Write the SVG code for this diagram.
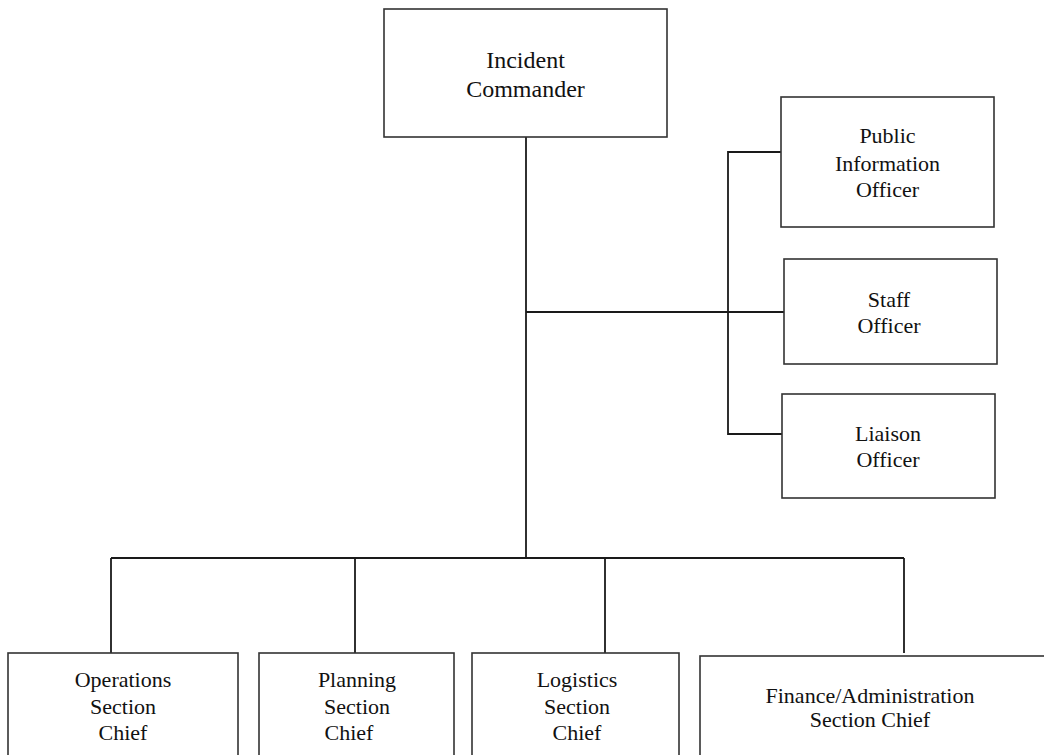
<svg xmlns="http://www.w3.org/2000/svg" width="1044" height="755" viewBox="0 0 1044 755">
  <style>
    .box { fill: #ffffff; stroke: #333333; stroke-width: 1.6; }
    .link { fill: none; stroke: #1a1a1a; stroke-width: 1.8; }
    text { font-family: "Liberation Serif", "Times New Roman", serif; font-size: 22px; fill: #111111; text-anchor: middle; }
    .big { font-size: 24px; }
  </style>
  <rect width="1044" height="755" fill="#ffffff"/>

  <g id="connectors">
    <!-- trunk from the commander down to the section bus -->
    <line class="link" x1="526" y1="137" x2="526" y2="558"/>
    <!-- command staff spine -->
    <path class="link" d="M781,152 H728 V434 H782"/>
    <line class="link" x1="526" y1="312" x2="786" y2="312"/>
    <!-- section bus and drops -->
    <line class="link" x1="111" y1="558" x2="904" y2="558"/>
    <line class="link" x1="111" y1="558" x2="111" y2="653"/>
    <line class="link" x1="355" y1="558" x2="355" y2="653"/>
    <line class="link" x1="605" y1="558" x2="605" y2="653"/>
    <line class="link" x1="904" y1="558" x2="904" y2="653"/>
  </g>

  <g id="incident-commander">
    <rect class="box" x="384" y="9" width="283" height="128"/>
    <text class="big" x="525.5" y="68">Incident</text>
    <text class="big" x="525.5" y="97">Commander</text>
  </g>

  <g id="public-information-officer">
    <rect class="box" x="781" y="97" width="213" height="130"/>
    <text x="887.5" y="143">Public</text>
    <text x="887.5" y="171">Information</text>
    <text x="887.5" y="197">Officer</text>
  </g>

  <g id="staff-officer">
    <rect class="box" x="784" y="259" width="213" height="105"/>
    <text x="889" y="307">Staff</text>
    <text x="889" y="333">Officer</text>
  </g>

  <g id="liaison-officer">
    <rect class="box" x="782" y="394" width="213" height="104"/>
    <text x="888" y="441">Liaison</text>
    <text x="888" y="467">Officer</text>
  </g>

  <g id="operations-section-chief">
    <rect class="box" x="8" y="653" width="230" height="120"/>
    <text x="123" y="687">Operations</text>
    <text x="123" y="714">Section</text>
    <text x="123" y="740">Chief</text>
  </g>

  <g id="planning-section-chief">
    <rect class="box" x="259" y="653" width="195" height="120"/>
    <text x="357" y="687">Planning</text>
    <text x="357" y="714">Section</text>
    <text x="349" y="740">Chief</text>
  </g>

  <g id="logistics-section-chief">
    <rect class="box" x="472" y="653" width="207" height="120"/>
    <text x="577" y="687">Logistics</text>
    <text x="577" y="714">Section</text>
    <text x="577" y="740">Chief</text>
  </g>

  <g id="finance-administration-section-chief">
    <rect class="box" x="700" y="656" width="360" height="120"/>
    <text x="870" y="703">Finance/Administration</text>
    <text x="870" y="727">Section Chief</text>
  </g>
</svg>
